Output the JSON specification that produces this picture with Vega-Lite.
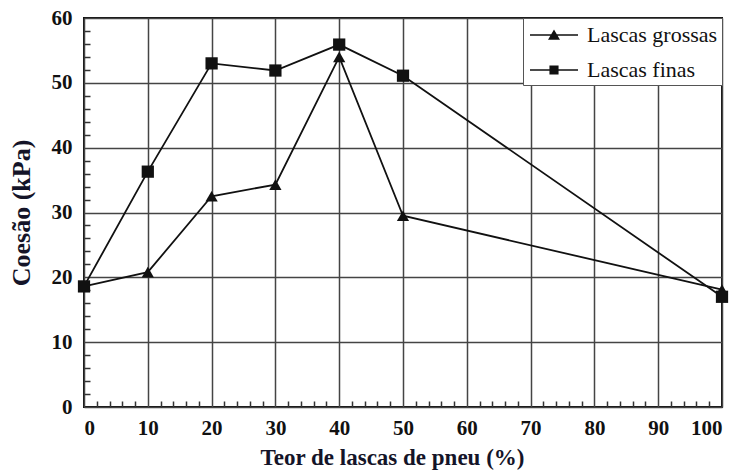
{
  "$schema": "https://vega.github.io/schema/vega-lite/v6.json",
  "width": 638,
  "height": 389,
  "autosize": {"type": "none"},
  "padding": {"left": 84, "top": 18, "right": 21, "bottom": 66},
  "background": "white",
  "config": {
    "view": {"stroke": "#111", "strokeWidth": 2},
    "axis": {
      "labelFont": "Liberation Serif",
      "labelFontWeight": "bold",
      "labelFontSize": 21,
      "labelColor": "#111",
      "titleFont": "Liberation Serif",
      "titleFontWeight": "bold",
      "titleFontSize": 23,
      "titleColor": "#141428",
      "gridColor": "#444",
      "gridWidth": 1.5,
      "tickColor": "#333",
      "tickWidth": 1.5,
      "domain": false,
      "labelOverlap": false
    },
    "legend": {"labelFont": "Liberation Serif", "labelFontWeight": "normal"}
  },
  "data": {
    "values": [
      {"teor": 0, "coesao": 18.6, "serie": "Lascas grossas"},
      {"teor": 10, "coesao": 20.8, "serie": "Lascas grossas"},
      {"teor": 20, "coesao": 32.5, "serie": "Lascas grossas"},
      {"teor": 30, "coesao": 34.3, "serie": "Lascas grossas"},
      {"teor": 40, "coesao": 54.0, "serie": "Lascas grossas"},
      {"teor": 50, "coesao": 29.5, "serie": "Lascas grossas"},
      {"teor": 100, "coesao": 18.1, "serie": "Lascas grossas"},
      {"teor": 0, "coesao": 18.6, "serie": "Lascas finas"},
      {"teor": 10, "coesao": 36.3, "serie": "Lascas finas"},
      {"teor": 20, "coesao": 53.0, "serie": "Lascas finas"},
      {"teor": 30, "coesao": 51.9, "serie": "Lascas finas"},
      {"teor": 40, "coesao": 55.9, "serie": "Lascas finas"},
      {"teor": 50, "coesao": 51.1, "serie": "Lascas finas"},
      {"teor": 100, "coesao": 17.0, "serie": "Lascas finas"}
    ]
  },
  "encoding": {
    "x": {
      "field": "teor",
      "type": "quantitative",
      "scale": {"domain": [0, 100], "nice": false, "zero": true},
      "axis": {
        "title": "Teor de lascas de pneu (%)",
        "titleX": 308,
        "values": [0,2,4,6,8,10,12,14,16,18,20,22,24,26,28,30,32,34,36,38,40,42,44,46,48,50,52,54,56,58,60,62,64,66,68,70,72,74,76,78,80,82,84,86,88,90,92,94,96,98,100],
        "labelExpr": "datum.value % 10 === 0 ? datum.label : ''",
        "gridOpacity": {"condition": {"test": "datum.value % 10 === 0", "value": 1}, "value": 0},
        "tickSize": {"condition": {"test": "datum.value % 10 === 0", "value": 0}, "value": -6},
        "labelPadding": 10,
        "titlePadding": 8
      }
    },
    "y": {
      "field": "coesao",
      "type": "quantitative",
      "scale": {"domain": [0, 60], "nice": false},
      "axis": {
        "title": "Coesão (kPa)",
        "titleFontSize": 26,
        "values": [0,2,4,6,8,10,12,14,16,18,20,22,24,26,28,30,32,34,36,38,40,42,44,46,48,50,52,54,56,58,60],
        "labelExpr": "datum.value % 10 === 0 ? datum.label : ''",
        "gridOpacity": {"condition": {"test": "datum.value % 10 === 0", "value": 1}, "value": 0},
        "tickSize": {"condition": {"test": "datum.value % 10 === 0", "value": 0}, "value": -6},
        "labelPadding": 12,
        "titlePadding": 17
      }
    }
  },
  "resolve": {"scale": {"shape": "independent"}, "legend": {"shape": "independent"}},
  "layer": [
    {
      "mark": {"type": "line", "color": "#111", "strokeWidth": 1.8},
      "encoding": {"detail": {"field": "serie"}}
    },
    {
      "mark": {"type": "point", "filled": true, "color": "#111", "opacity": 1, "size": 150},
      "encoding": {
        "shape": {
          "field": "serie",
          "type": "nominal",
          "scale": {"domain": ["Lascas grossas", "Lascas finas"], "range": ["triangle-up", "square"]},
          "legend": null
        }
      }
    },
    {
      "transform": [{"filter": "datum.teor < 0"}],
      "mark": {"type": "point", "filled": true, "fill": "#111", "opacity": 1},
      "encoding": {
        "shape": {
          "field": "serie",
          "type": "nominal",
          "scale": {"domain": ["Lascas grossas", "Lascas finas"], "range": ["M-2,-0.06H2V0.06H-2ZM-0.5,0.4L0,-0.45L0.5,0.4Z", "M-2,-0.06H2V0.06H-2ZM-0.38,-0.38H0.38V0.38H-0.38Z"]},
          "legend": {
            "title": null,
            "orient": "top-right",
            "offset": 0,
            "fillColor": "white",
            "strokeColor": "#555",
            "padding": 4,
            "labelFont": "Liberation Serif",
            "labelFontSize": 22,
            "labelColor": "#111",
            "labelOffset": 20,
            "labelExpr": "datum.label + '\u00a0\u00a0'",
            "symbolOffset": 14,
            "rowPadding": 11,
            "symbolSize": 576,
            "symbolFillColor": "#111",
            "symbolOpacity": 1
          }
        }
      }
    }
  ]
}
